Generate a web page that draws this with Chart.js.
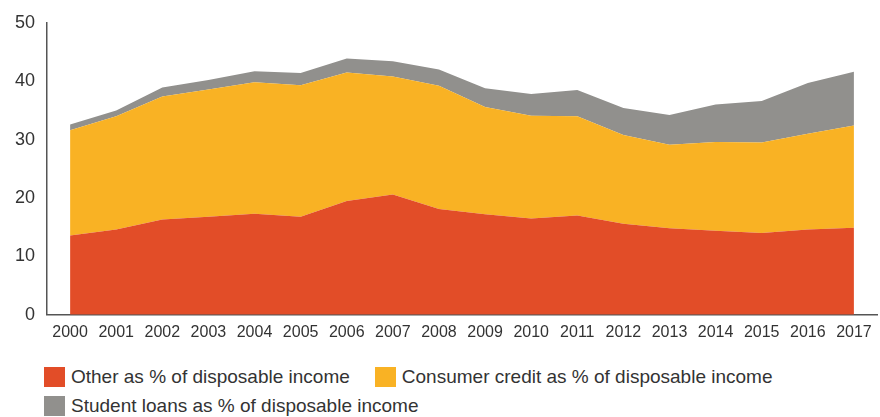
<!DOCTYPE html>
<html>
<head>
<meta charset="utf-8">
<script src="https://cdn.jsdelivr.net/npm/chart.js@4.4.1/dist/chart.umd.min.js"></script>
<style>
    body { margin: 0; background: #fff; font-family: "Liberation Sans", Arial, sans-serif; }
    #wrap { position: relative; width: 880px; height: 417px; }
    #chartBox { position: absolute; left: 0; top: 0; width: 880px; height: 354px; }
    #legend {
        position: absolute; left: 44px; top: 367px; width: 820px;
        display: flex; flex-wrap: wrap; row-gap: 9px;
        font-size: 19px; color: #333;
    }
    .item { display: flex; align-items: center; margin-right: 25px; line-height: 20px; }
    .swatch { width: 21px; height: 20px; margin-right: 6px; }
    .item:nth-child(2) { margin-right: 60px; }
</style>
</head>
<body>
<div id="wrap">
    <div id="chartBox"><canvas id="debtChart"></canvas></div>
    <div id="legend"></div>
</div>
<script>
// Household debt as a share of disposable income, 2000-2017
const years = ['2000', '2001', '2002', '2003', '2004', '2005', '2006', '2007', '2008',
               '2009', '2010', '2011', '2012', '2013', '2014', '2015', '2016', '2017'];

const otherDebt    = [13.6, 14.6, 16.3, 16.8, 17.3, 16.8, 19.5, 20.6, 18.1, 17.2, 16.5, 17.0, 15.6, 14.8, 14.4, 14.0, 14.6, 14.9];
const consumerDebt = [18.0, 19.4, 21.1, 21.8, 22.5, 22.5, 22.0, 20.2, 21.1, 18.4, 17.6, 17.0, 15.2, 14.3, 15.2, 15.5, 16.4, 17.5];
const studentDebt  = [1.0, 1.0, 1.5, 1.6, 1.9, 2.1, 2.4, 2.6, 2.8, 3.2, 3.7, 4.5, 4.6, 5.1, 6.4, 7.1, 8.7, 9.2];

const seriesLabels = ['Other as % of disposable income',
                      'Consumer credit as % of disposable income',
                      'Student loans as % of disposable income'];
const seriesColors = ['#e24d28', '#f9b224', '#91908d'];

function makeArea(label, data, color, fill) {
    return {
        label: label,
        data: data,
        backgroundColor: color,
        borderColor: color,
        borderWidth: 0,
        pointRadius: 0,
        tension: 0,
        fill: fill
    };
}

const ctx = document.getElementById('debtChart').getContext('2d');
new Chart(ctx, {
    type: 'line',
    data: {
        labels: years,
        datasets: [
            makeArea(seriesLabels[0], otherDebt, seriesColors[0], 'origin'),
            makeArea(seriesLabels[1], consumerDebt, seriesColors[1], '-1'),
            makeArea(seriesLabels[2], studentDebt, seriesColors[2], '-1')
        ]
    },
    options: {
        responsive: true,
        maintainAspectRatio: false,
        animation: false,
        layout: { padding: { top: 12, left: 3, right: 3, bottom: 4 } },
        scales: {
            x: {
                offset: true,
                grid: { display: false, drawTicks: false },
                border: { color: '#555', width: 1.5 },
                ticks: {
                    color: '#333',
                    padding: 8,
                    maxRotation: 0,
                    autoSkip: false,
                    font: { family: 'Liberation Sans', size: 16 }
                }
            },
            y: {
                stacked: true,
                min: 0,
                max: 50,
                grid: { display: false, drawTicks: false },
                border: { color: '#555', width: 1.5 },
                ticks: {
                    stepSize: 10,
                    color: '#333',
                    padding: 12,
                    font: { family: 'Liberation Sans', size: 18 }
                }
            }
        },
        plugins: {
            legend: { display: false },
            tooltip: { enabled: false }
        }
    }
});

// Legend below the plot, built from the series names
const legendEl = document.getElementById('legend');
seriesLabels.forEach((label, i) => {
    const item = document.createElement('div');
    item.className = 'item';
    const swatch = document.createElement('span');
    swatch.className = 'swatch';
    swatch.style.background = seriesColors[i];
    const text = document.createElement('span');
    text.textContent = label;
    item.appendChild(swatch);
    item.appendChild(text);
    legendEl.appendChild(item);
});
</script>
</body>
</html>
